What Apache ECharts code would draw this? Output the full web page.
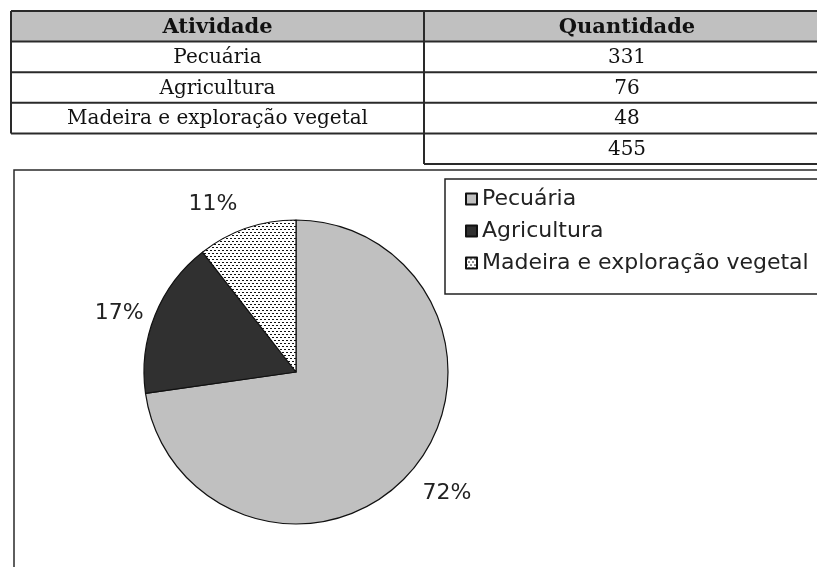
<!DOCTYPE html>
<html>
<head>
<meta charset="utf-8">
<script src="https://cdn.jsdelivr.net/npm/echarts@6/dist/echarts.min.js"></script>
<style>
  html, body { margin: 0; padding: 0; background: #fff; }
  #main { width: 817px; height: 567px; }
</style>
</head>
<body>
<div id="main"></div>
<script>
// dados da tabela / gráfico
const tableHeader = ['Atividade', 'Quantidade'];
const activities = ['Pecuária', 'Agricultura', 'Madeira e exploração vegetal'];
const quantities = [331, 76, 48];
const pctLabels = ['72%', '17%', '11%'];
const total = quantities.reduce((a, b) => a + b, 0);

// padrão pontilhado da fatia "Madeira"
function dotPattern() {
  const c = document.createElement('canvas');
  c.width = 4;
  c.height = 6;
  const ctx = c.getContext('2d');
  ctx.fillStyle = '#fff';
  ctx.fillRect(0, 0, 4, 6);
  ctx.fillStyle = '#111';
  ctx.fillRect(0, 1, 2, 1);
  ctx.fillRect(2, 4, 2, 1);
  return { image: c, repeat: 'repeat' };
}

const sliceColors = ['#c0c0c0', '#303030', dotPattern()];
// pequenos ajustes de posição dos rótulos (estilo Excel)
const labelNudge = [[-10, 7], [14, 6], [3, -3]];

// tabela desenhada com graphic
const tX = 11, colX = 424, tRight = 830, tTop = 11, rowH = 30.6;
const lineStyle = { stroke: '#2a2a2a', lineWidth: 2 };
const serif = '"DejaVu Serif", serif';

function tableGraphics() {
  const els = [];
  els.push({ type: 'rect', shape: { x: tX, y: tTop, width: tRight - tX, height: rowH }, style: { fill: '#c0c0c0' }, z: 0 });
  const nRows = activities.length + 1;
  for (let i = 0; i <= nRows; i++) {
    const y = tTop + i * rowH;
    els.push({ type: 'line', shape: { x1: tX, y1: y, x2: tRight, y2: y }, style: lineStyle, z: 2 });
  }
  const yTotal = tTop + (nRows + 1) * rowH;
  els.push({ type: 'line', shape: { x1: colX, y1: yTotal, x2: tRight, y2: yTotal }, style: lineStyle, z: 2 });
  els.push({ type: 'line', shape: { x1: tX, y1: tTop, x2: tX, y2: tTop + nRows * rowH }, style: lineStyle, z: 2 });
  els.push({ type: 'line', shape: { x1: colX, y1: tTop, x2: colX, y2: yTotal }, style: lineStyle, z: 2 });

  const c1 = (tX + colX) / 2, c2 = (colX + tRight) / 2;
  const cell = (txt, x, row, bold) => ({
    type: 'text', z: 3,
    style: {
      text: String(txt), x: x, y: tTop + row * rowH + rowH / 2 + 1,
      textAlign: 'center', textVerticalAlign: 'middle',
      font: (bold ? 'bold 21px ' : '20px ') + serif, fill: '#111'
    }
  });
  els.push(cell(tableHeader[0], c1, 0, true));
  els.push(cell(tableHeader[1], c2, 0, true));
  activities.forEach((a, i) => {
    els.push(cell(a, c1, i + 1, false));
    els.push(cell(quantities[i], c2, i + 1, false));
  });
  els.push(cell(total, c2, nRows, false));

  // moldura da área do gráfico
  els.push({ type: 'rect', shape: { x: 14, y: 170, width: 900, height: 500 }, style: { fill: 'none', stroke: '#2a2a2a', lineWidth: 1.5 }, z: 1 });
  return els;
}

const chart = echarts.init(document.getElementById('main'));

const option = {
  backgroundColor: '#fff',
  animation: false,
  graphic: tableGraphics(),
  legend: {
    orient: 'vertical',
    left: 445,
    top: 179,
    padding: [9, 20, 20, 20],
    itemGap: 10,
    itemWidth: 11,
    itemHeight: 11,
    icon: 'rect',
    borderColor: '#222',
    borderWidth: 1.5,
    backgroundColor: '#fff',
    textStyle: { fontFamily: '"DejaVu Sans", sans-serif', fontSize: 22, color: '#222' },
    data: activities
  },
  series: [
    {
      type: 'pie',
      center: [296, 372],
      radius: 152,
      startAngle: 90,
      clockwise: true,
      avoidLabelOverlap: false,
      itemStyle: { borderColor: '#111', borderWidth: 1.2 },
      emphasis: { disabled: true },
      label: {
        show: true,
        position: 'outside',
        formatter: p => pctLabels[p.dataIndex],
        fontFamily: '"DejaVu Sans", sans-serif',
        fontSize: 22,
        color: '#222',
        distanceToLabelLine: 5
      },
      labelLine: { show: false, length: 22, length2: 0 },
      labelLayout: p => ({ dx: labelNudge[p.dataIndex][0], dy: labelNudge[p.dataIndex][1] }),
      data: activities.map((a, i) => ({
        name: a,
        value: quantities[i],
        itemStyle: { color: sliceColors[i] }
      }))
    }
  ]
};

chart.setOption(option);
</script>
</body>
</html>
